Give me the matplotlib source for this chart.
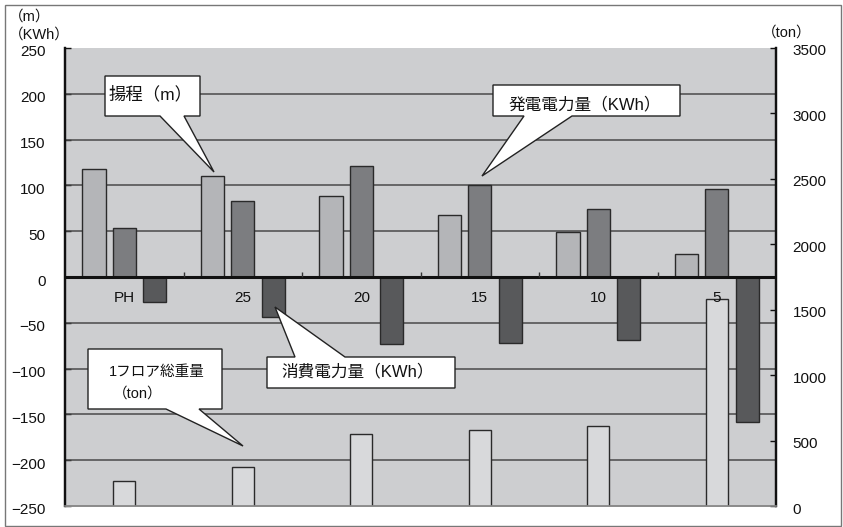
import matplotlib
matplotlib.use("Agg")
import matplotlib.pyplot as plt
from matplotlib.patches import Polygon, Rectangle
from matplotlib.transforms import ScaledTranslation
import numpy as np

plt.rcParams['font.family'] = ['Liberation Sans', 'Noto Sans CJK JP']

# Floors and measured values
floors = ["PH", "25", "20", "15", "10", "5"]
head_m = [118, 110, 88, 68, 49, 25]                 # 揚程 (m)
generated_kwh = [54, 83, 121, 100, 74, 96]          # 発電電力量 (KWh)
consumed_kwh = [-27, -44, -73, -72, -69, -158]      # 消費電力量 (KWh)
floor_weight_ton = [190, 300, 550, 580, 615, 1585]  # 1フロア総重量 (ton)

left_ticks = list(range(-250, 251, 50))
right_ticks = list(range(0, 3501, 500))

W, H = 843, 527
fig = plt.figure(figsize=(W / 100, H / 100), dpi=100)
fig.patch.set_facecolor("white")


def fx(px):
    return px / W


def fy(py):
    return 1 - py / H


ax = fig.add_axes([fx(65), fy(506), fx(776) - fx(65), fy(48) - fy(506)])
ax2 = ax.twinx()

ax.set_facecolor("#cdced0")
ax.set_axisbelow(True)

x = np.arange(len(floors))
bw = 0.197
edge = "#2a2a2a"
ax.bar(x - 0.255, head_m, bw, color="#b4b5b8", edgecolor=edge, linewidth=1, zorder=2)
ax.bar(x, generated_kwh, bw, color="#7c7d80", edgecolor=edge, linewidth=1, zorder=2)
ax.bar(x + 0.258, consumed_kwh, bw, color="#58595b", edgecolor=edge, linewidth=1, zorder=2)
ax2.bar(x, floor_weight_ton, 0.182, color="#d8d9db", edgecolor=edge, linewidth=1, zorder=2)

ax.set_xlim(-0.5, len(floors) - 0.5)
ax.set_ylim(-250, 250)
ax2.set_ylim(0, 3500)

# horizontal grid
for v in left_ticks:
    if v not in (-250, 0, 250):
        ax.axhline(v, color="#4a4a4a", linewidth=1.1, zorder=1)
ax.axhline(0, color="#111111", linewidth=2.2, zorder=3)
ax.vlines(np.arange(len(floors) - 1) + 0.5, 0, 5, color="#333333", linewidth=1, zorder=3)

ax.set_xticks([])
ax.set_yticks(left_ticks)
ax2.set_yticks(right_ticks)
ax.tick_params(axis="y", direction="in", length=4, width=1, pad=14, labelsize=11, colors="#111111")
ax2.tick_params(axis="y", direction="in", length=4, width=1, pad=12, labelsize=11, colors="#111111")
for lab in ax.get_yticklabels():
    lab.set_transform(lab.get_transform() + ScaledTranslation(0, -3 / 100, fig.dpi_scale_trans))
for lab in ax2.get_yticklabels():
    lab.set_transform(lab.get_transform() + ScaledTranslation(0, -2 / 100, fig.dpi_scale_trans))

for a in (ax, ax2):
    a.spines["top"].set_visible(False)
    a.spines["left"].set_color("#111111")
    a.spines["left"].set_linewidth(1.6)
    a.spines["right"].set_color("#111111")
    a.spines["right"].set_linewidth(1.6)
    a.spines["bottom"].set_color("#8a8a8a")
    a.spines["bottom"].set_linewidth(1.2)

# floor labels just under the zero line
for i, f in enumerate(floors):
    ax2.text(i, -23, f, transform=ax.transData, ha="center", va="center",
             fontsize=11, color="#111111", zorder=5)

# axis units
fig.text(fx(9), fy(17), "（m）", fontsize=10.5, ha="left", va="center", color="#111111")
fig.text(fx(9), fy(35), "（KWh）", fontsize=10.5, ha="left", va="center", color="#111111")
fig.text(fx(762), fy(33), "（ton）", fontsize=10.5, ha="left", va="center", color="#111111")


def callout(box, base, tip, side):
    x0, y0, x1, y1 = box
    b0, b1 = base
    if side == "bottom":
        pts = [(x0, y0), (x1, y0), (x1, y1), (b1, y1), tip, (b0, y1), (x0, y1)]
    else:
        pts = [(x0, y0), (b0, y0), tip, (b1, y0), (x1, y0), (x1, y1), (x0, y1)]
    poly = Polygon([(fx(px), fy(py)) for px, py in pts], closed=True,
                   transform=fig.transFigure, facecolor="white",
                   edgecolor="#222222", linewidth=1, zorder=10)
    fig.add_artist(poly)


callout((105, 76, 200, 116), (160, 184), (214, 172), "bottom")
fig.text(fx(151), fy(94), "揚程（m）", fontsize=12.5, ha="center", va="center", zorder=11, color="#111111")

callout((493, 85, 680, 116), (524, 572), (482, 176), "bottom")
fig.text(fx(585), fy(104), "発電電力量（KWh）", fontsize=12, ha="center", va="center", zorder=11, color="#111111")

callout((267, 357, 455, 388), (295, 345), (275, 307), "top")
fig.text(fx(358), fy(371), "消費電力量（KWh）", fontsize=12, ha="center", va="center", zorder=11, color="#111111")

callout((88, 349, 222, 409), (166, 199), (243, 446), "bottom")
fig.text(fx(157), fy(372), "1フロア総重量", fontsize=10.5, ha="center", va="center", zorder=11, color="#111111")
fig.text(fx(138), fy(394), "（ton）", fontsize=10.5, ha="center", va="center", zorder=11, color="#111111")

# outer frame
fig.add_artist(Rectangle((fx(5), fy(526)), fx(841) - fx(5), fy(5) - fy(526),
                         transform=fig.transFigure, fill=False,
                         edgecolor="#777777", linewidth=1, zorder=0))

fig.savefig("out.png", dpi=100, facecolor="white")
